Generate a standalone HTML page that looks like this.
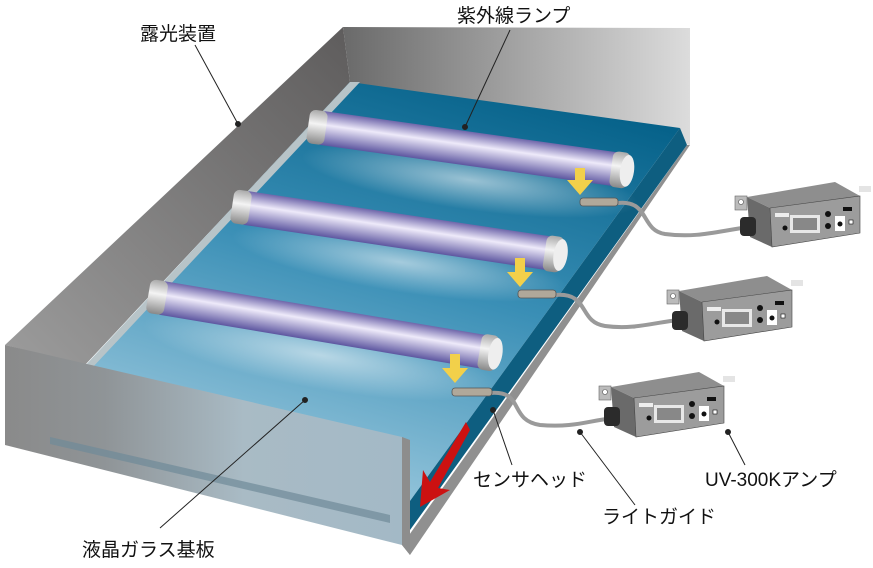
<!DOCTYPE html>
<html><head><meta charset="utf-8"><style>
html,body{margin:0;padding:0;background:#fff}
svg{display:block}
text{font-family:"Liberation Sans","Noto Sans CJK JP",sans-serif;font-size:19px;fill:#111}
</style></head><body>
<svg width="873" height="568" viewBox="0 0 873 568" xmlns="http://www.w3.org/2000/svg">
<defs>
<linearGradient id="wallL" x1="0" y1="1" x2="1" y2="0"><stop offset="0" stop-color="#9c9c9c"/><stop offset="1" stop-color="#5e5c5c"/></linearGradient>
<linearGradient id="wallB" x1="0" y1="0" x2="1" y2="0"><stop offset="0" stop-color="#6a6a6a"/><stop offset="1" stop-color="#dcdcdc"/></linearGradient>
<linearGradient id="front" x1="0" y1="0" x2="1" y2="0"><stop offset="0" stop-color="#8a8a8a"/><stop offset="0.25" stop-color="#8f9497"/><stop offset="0.6" stop-color="#a9bbc5"/><stop offset="1" stop-color="#a3b9c6"/></linearGradient>
<linearGradient id="glass" x1="0.7" y1="0" x2="0.3" y2="1"><stop offset="0" stop-color="#06628a"/><stop offset="0.45" stop-color="#3a8fb6"/><stop offset="1" stop-color="#a6cfe2"/></linearGradient>
<linearGradient id="tube" x1="0" y1="0" x2="0" y2="1"><stop offset="0" stop-color="#6f66aa"/><stop offset="0.4" stop-color="#eeeafa"/><stop offset="1" stop-color="#5d56a0"/></linearGradient>
<linearGradient id="cap" x1="0" y1="0" x2="0" y2="1"><stop offset="0" stop-color="#aaa"/><stop offset="0.4" stop-color="#f4f4f4"/><stop offset="1" stop-color="#888"/></linearGradient>
<radialGradient id="glow" cx="0.5" cy="0.5" r="0.5"><stop offset="0" stop-color="#fff" stop-opacity="0.55"/><stop offset="1" stop-color="#fff" stop-opacity="0"/></radialGradient>
<g id="amp">
<polygon points="747,197 835,182 860,196 770,208" fill="#8e8e8e"/>
<polygon points="747,197 770,208 772,247 750,237" fill="#6a6a6a"/>
<polygon points="770,208 860,196 860,233 772,247" fill="#9c9c9c" stroke="#444" stroke-width="0.6"/>
<rect x="735" y="196" width="12" height="14" fill="#bbb" stroke="#666" stroke-width="0.6"/>
<circle cx="741" cy="202" r="2.5" fill="#fff" stroke="#555" stroke-width="0.6"/>
<rect x="740" y="217" width="16" height="19" rx="4" fill="#2b2b2b"/>
<rect x="775" y="213" width="14" height="4" fill="#eee"/>
<rect x="790" y="215" width="30" height="18" fill="#e8e8e8"/>
<rect x="793" y="218" width="24" height="12" fill="#888"/>
<circle cx="785" cy="228" r="2.5" fill="#111"/>
<circle cx="828" cy="214" r="3" fill="#111"/><circle cx="828" cy="226" r="3" fill="#111"/>
<rect x="835" y="216" width="10" height="15" fill="#fff"/><circle cx="840" cy="224" r="2.5" fill="#111"/>
<rect x="843" y="207" width="9" height="4" fill="#111"/><rect x="849" y="220" width="4" height="4" fill="#fff" stroke="#111" stroke-width="0.6"/>
<rect x="859" y="186" width="12" height="6" fill="#e4e4e4"/>
</g>
</defs>
<rect width="873" height="568" fill="#fff"/>
<!-- tray -->
<polygon points="343,27 690,28 690,145 350,82" fill="url(#wallB)"/>
<polygon points="343,27 350,82 85,365 5,345" fill="url(#wallL)"/>
<polygon points="687,145 690,145 410,555 402,545" fill="#909090"/>
<!-- glass -->
<polygon points="350,82 680,128 402,512 85,366" fill="url(#glass)"/>
<polygon points="350,82 360,82 92,368 85,366" fill="#b8c4c8"/>
<polygon points="680,128 687,145 410,530 402,512" fill="#0e5e80"/>
<!-- glows -->
<ellipse cx="470" cy="180" rx="170" ry="30" fill="url(#glow)" transform="rotate(8 470 180)"/>
<ellipse cx="400" cy="262" rx="170" ry="30" fill="url(#glow)" transform="rotate(9 400 262)"/>
<ellipse cx="320" cy="355" rx="180" ry="34" fill="url(#glow)" transform="rotate(10 320 355)"/>
<!-- front wall -->
<polygon points="5,345 402,437 402,545 5,445" fill="url(#front)"/>
<polygon points="50,437 390,515 390,523 50,444" fill="#6f8a98" opacity="0.7"/>
<polygon points="402,437 410,440 410,555 402,545" fill="#8d8d8d"/>
<!-- red arrow -->
<polygon points="466,422 470,430 438,488 450,490 420,507 423,470 430,482" fill="#cc1111"/>
<!-- lamps -->
<g transform="translate(322,128) rotate(8)"><rect x="0" y="-17" width="300" height="34" fill="url(#tube)"/><rect x="-14" y="-17" width="18" height="34" rx="6" fill="url(#cap)"/><rect x="292" y="-18" width="18" height="36" rx="6" fill="url(#cap)"/><ellipse cx="308" cy="0" rx="7" ry="16" fill="#eee"/></g>
<g transform="translate(246,208) rotate(8.5)"><rect x="0" y="-17" width="310" height="34" fill="url(#tube)"/><rect x="-14" y="-17" width="18" height="34" rx="6" fill="url(#cap)"/><rect x="302" y="-18" width="18" height="36" rx="6" fill="url(#cap)"/><ellipse cx="318" cy="0" rx="7" ry="16" fill="#eee"/></g>
<g transform="translate(162,298) rotate(9.5)"><rect x="0" y="-17" width="330" height="34" fill="url(#tube)"/><rect x="-14" y="-17" width="18" height="34" rx="6" fill="url(#cap)"/><rect x="322" y="-18" width="18" height="36" rx="6" fill="url(#cap)"/><ellipse cx="338" cy="0" rx="7" ry="16" fill="#eee"/></g>
<!-- yellow arrows -->
<polygon points="575,168 585,168 585,180 593,180 580,195 567,180 575,180" fill="#f2d04a"/>
<polygon points="515,258 525,258 525,272 533,272 520,287 507,272 515,272" fill="#f2d04a"/>
<polygon points="450,354 460,354 460,368 468,368 455,383 442,368 450,368" fill="#f2d04a"/>
<!-- cables -->
<g fill="none" stroke="#9a9a9a" stroke-width="4">
<path d="M618,203 C650,200 640,230 665,234 C695,238 715,232 742,228"/>
<path d="M555,295 C590,292 578,322 605,326 C635,330 655,322 680,320"/>
<path d="M490,393 C525,390 508,420 540,425 C575,428 590,420 615,418"/>
</g>
<!-- sensors -->
<g fill="#b0a89a" stroke="#555" stroke-width="0.8">
<rect x="580" y="198" width="38" height="8" rx="3"/><rect x="518" y="290" width="38" height="8" rx="3"/><rect x="452" y="388" width="40" height="8" rx="3"/>
</g>
<use href="#amp"/>
<use href="#amp" transform="translate(-68,94)"/>
<use href="#amp" transform="translate(-136,190)"/>
<!-- leaders -->
<g stroke="#222" stroke-width="1" fill="#222">
<line x1="195" y1="45" x2="238" y2="124"/><circle cx="238" cy="124" r="2.5"/>
<line x1="510" y1="30" x2="465" y2="127"/><circle cx="465" cy="127" r="2.5"/>
<line x1="160" y1="528" x2="305" y2="400"/><circle cx="305" cy="400" r="2.5"/>
<line x1="512" y1="465" x2="493" y2="410"/><circle cx="493" cy="410" r="2.5"/>
<line x1="635" y1="505" x2="580" y2="432"/><circle cx="580" cy="432" r="2.5"/>
<line x1="745" y1="465" x2="728" y2="432"/><circle cx="728" cy="432" r="2.5"/>
</g>
<text x="140" y="40">露光装置</text>
<text x="457" y="22">紫外線ランプ</text>
<text x="473" y="486">センサヘッド</text>
<text x="705" y="486">UV-300Kアンプ</text>
<text x="602" y="523">ライトガイド</text>
<text x="82" y="556">液晶ガラス基板</text>
</svg>
</body></html>
